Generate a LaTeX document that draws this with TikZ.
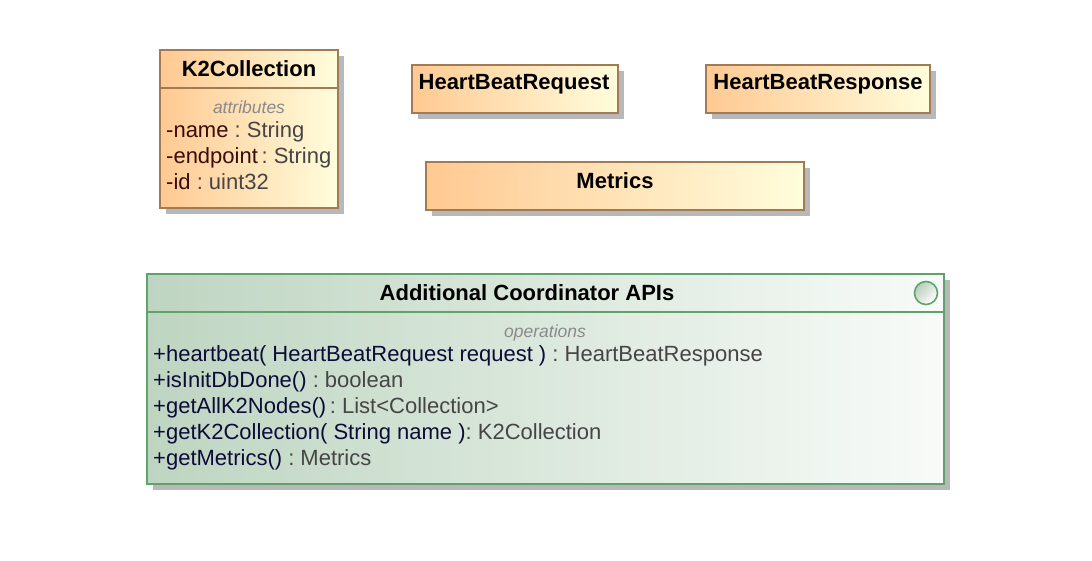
\documentclass[tikz,border=0pt]{standalone}
\usepackage{fontspec}
\setmainfont{Liberation Sans}
\usetikzlibrary{shadows}
\frenchspacing
\definecolor{orL}{HTML}{FFC992}
\definecolor{orR}{HTML}{FFFDDC}
\definecolor{orB}{HTML}{A27B55}
\definecolor{grL}{HTML}{BED5C1}
\definecolor{grR}{HTML}{F8FBF8}
\definecolor{grB}{HTML}{5FA36B}
\definecolor{shd}{HTML}{B8B8B8}
\definecolor{nameM}{HTML}{3A0C0C}
\definecolor{nameN}{HTML}{0C0C38}
\definecolor{typ}{HTML}{454545}
\definecolor{stereo}{HTML}{8A8A8A}
\tikzset{
  shadowed/.style={general shadow={fill=shd, shadow xshift=6pt, shadow yshift=-6pt}},
  orbox/.style={shadowed, draw=orB, line width=1.4pt, left color=orL, right color=orR, inner sep=0pt, outer sep=0pt, anchor=north west},
  grbox/.style={shadowed, draw=grB, line width=1.4pt, left color=grL, right color=grR, inner sep=0pt, outer sep=0pt, anchor=north west},
  ttl/.style={font=\fontsize{22}{26}\selectfont\bfseries, text=black, inner sep=0pt, anchor=base},
  mem/.style={font=\fontsize{22}{26}\selectfont, inner sep=0pt, anchor=base west},
  ster/.style={font=\fontsize{17.5}{20}\selectfont\itshape, text=stereo, inner sep=0pt, anchor=base},
}
\begin{document}
\begin{tikzpicture}[x=1pt,y=-1pt]
\useasboundingbox (0,0) rectangle (1092,560);
% K2Collection
\node[orbox, minimum width=178pt, minimum height=158pt] (k2) at (160,50) {};
\draw[orB, line width=1.4pt] (k2.north west |- 0,88) coordinate (k2sl) -- (k2.north east |- 0,88) coordinate (k2sr);
\node[ttl] (k2t) at (249,76) {K2Collection};
\node[ster] (k2s) at (249,113) {attributes};
\node[mem] (k2a) at (166,137) {\textcolor{nameM}{-name} \textcolor{typ}{: String}};
\node[mem] (k2b) at (166,163) {\textcolor{nameM}{-endpoint}\,\textcolor{typ}{: String}};
\node[mem] (k2c) at (166,189) {\textcolor{nameM}{-id} \textcolor{typ}{: uint32}};
% HeartBeatRequest
\node[orbox, minimum width=206pt, minimum height=48pt] (hbq) at (412,65) {};
\node[ttl] (hbqt) at (514,89) {HeartBeatRequest};
% HeartBeatResponse
\node[orbox, minimum width=224pt, minimum height=48pt] (hbr) at (706,65) {};
\node[ttl] (hbrt) at (818,89) {HeartBeatResponse};
% Metrics
\node[orbox, minimum width=378pt, minimum height=48pt] (met) at (426,162) {};
\node[ttl] (mett) at (615,188) {Metrics};
% Additional Coordinator APIs
\node[grbox, minimum width=797pt, minimum height=210pt] (api) at (147,274) {};
\draw[grB, line width=1.4pt] (api.north west |- 0,312) coordinate (apsl) -- (api.north east |- 0,312) coordinate (apsr);
\node[ttl] (apit) at (527,300) {Additional Coordinator APIs};
\node[circle, draw=grB, line width=1.6pt, minimum size=23pt, inner sep=0pt, left color=grL!90!gray, right color=white, shading angle=45] (icon) at (926,293) {};
\node[ster] (aps) at (545,337) {operations};
\node[mem] (op1) at (153,361) {\textcolor{nameN}{+heartbeat( HeartBeatRequest request )} \textcolor{typ}{: HeartBeatResponse}};
\node[mem] (op2) at (153,387) {\textcolor{nameN}{+isInitDbDone()} \textcolor{typ}{: boolean}};
\node[mem] (op3) at (153,413) {\textcolor{nameN}{+getAllK2Nodes()}\,\textcolor{typ}{: List<Collection>}};
\node[mem] (op4) at (153,439) {\textcolor{nameN}{+getK2Collection( String name )}\textcolor{typ}{: K2Collection}};
\node[mem] (op5) at (153,465) {\textcolor{nameN}{+getMetrics()} \textcolor{typ}{: Metrics}};
\end{tikzpicture}
\end{document}
